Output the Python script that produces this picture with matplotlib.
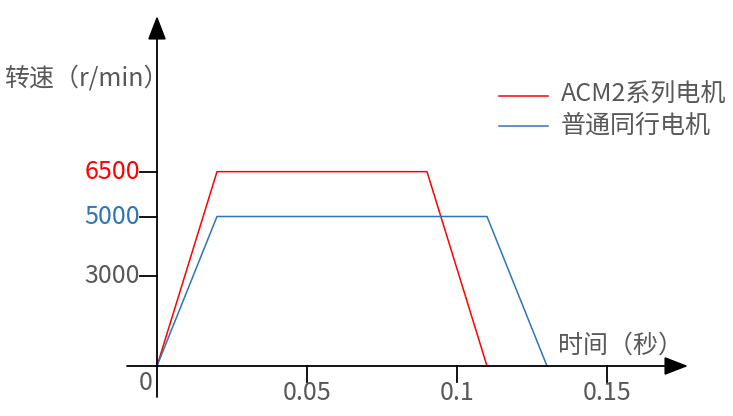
import matplotlib.pyplot as plt
import numpy as np

plt.rcParams['font.family'] = ['Noto Sans CJK SC', 'DejaVu Sans']

# data: time (s) vs speed (r/min)
t_acm = [0, 0.02, 0.09, 0.11]
v_acm = [0, 6500, 6500, 0]
t_std = [0, 0.02, 0.11, 0.13]
v_std = [0, 5000, 5000, 0]
xticks = [0.05, 0.1, 0.15]
xtick_labels = ['0.05', '0.1', '0.15']
yticks = [3000, 5000, 6500]
ytick_labels = ['3000', '5000', '6500']

red = '#ff0000'
blue = '#2e75b6'
gray = '#595757'

W, H = 733, 416
fig = plt.figure(figsize=(W / 100, H / 100), dpi=100)
ax = fig.add_axes([0, 0, 1, 1])

# pixel mapping: origin at (157, 366) from top-left
ox, oy = 157, 366
sx = 3000.0      # px per second
sy = 0.0299      # px per r/min
ax.set_xlim(-ox / sx, (W - ox) / sx)
ax.set_ylim(-(H - oy) / sy, oy / sy)
ax.axis('off')

def px(x):
    return (x - ox) / sx

def py(y):
    return (oy - y) / sy

# axes with arrows
arrow = dict(arrowstyle='-|>,head_length=1.45,head_width=0.56',
             color='black', lw=1.3, shrinkA=0, shrinkB=0)
ax.annotate('', xy=(px(688), 0), xytext=(px(127), 0), arrowprops=arrow)
ax.annotate('', xy=(0, py(16)), xytext=(0, py(397)), arrowprops=arrow)

# data lines
ax.plot(t_acm, v_acm, color=red, lw=1.1)
ax.plot(t_std, v_std, color=blue, lw=1.1)

fs = 18
# x ticks
for xt, lab in zip(xticks, xtick_labels):
    ax.plot([xt, xt], [0, py(382)], color='black', lw=1.3)
    ax.text(xt, py(393), lab, ha='center', va='center', fontsize=fs, color=gray)

# y ticks
ycolors = [gray, blue, red]
for yt, lab, c in zip(yticks, ytick_labels, ycolors):
    ax.plot([px(140), 0], [yt, yt], color='black', lw=1.3)
    ax.text(px(140), yt, lab, ha='right', va='center', fontsize=fs, color=c)

ax.text(px(146), py(383), '0', ha='center', va='center', fontsize=fs, color=gray)

# axis titles
ax.text(px(4), py(78), '转速（r/min）', ha='left', va='center', fontsize=fs, color=gray)
ax.text(px(558), py(346), '时间（秒）', ha='left', va='center', fontsize=fs, color=gray)

# legend
ax.plot([px(499), px(548)], [py(96), py(96)], color=red, lw=1.1)
ax.plot([px(499), px(548)], [py(126), py(126)], color=blue, lw=1.1)
ax.text(px(561), py(95), 'ACM2系列电机', ha='left', va='center', fontsize=fs, color=gray)
ax.text(px(561), py(126), '普通同行电机', ha='left', va='center', fontsize=fs, color=gray)

fig.savefig('out.png', dpi=100)
